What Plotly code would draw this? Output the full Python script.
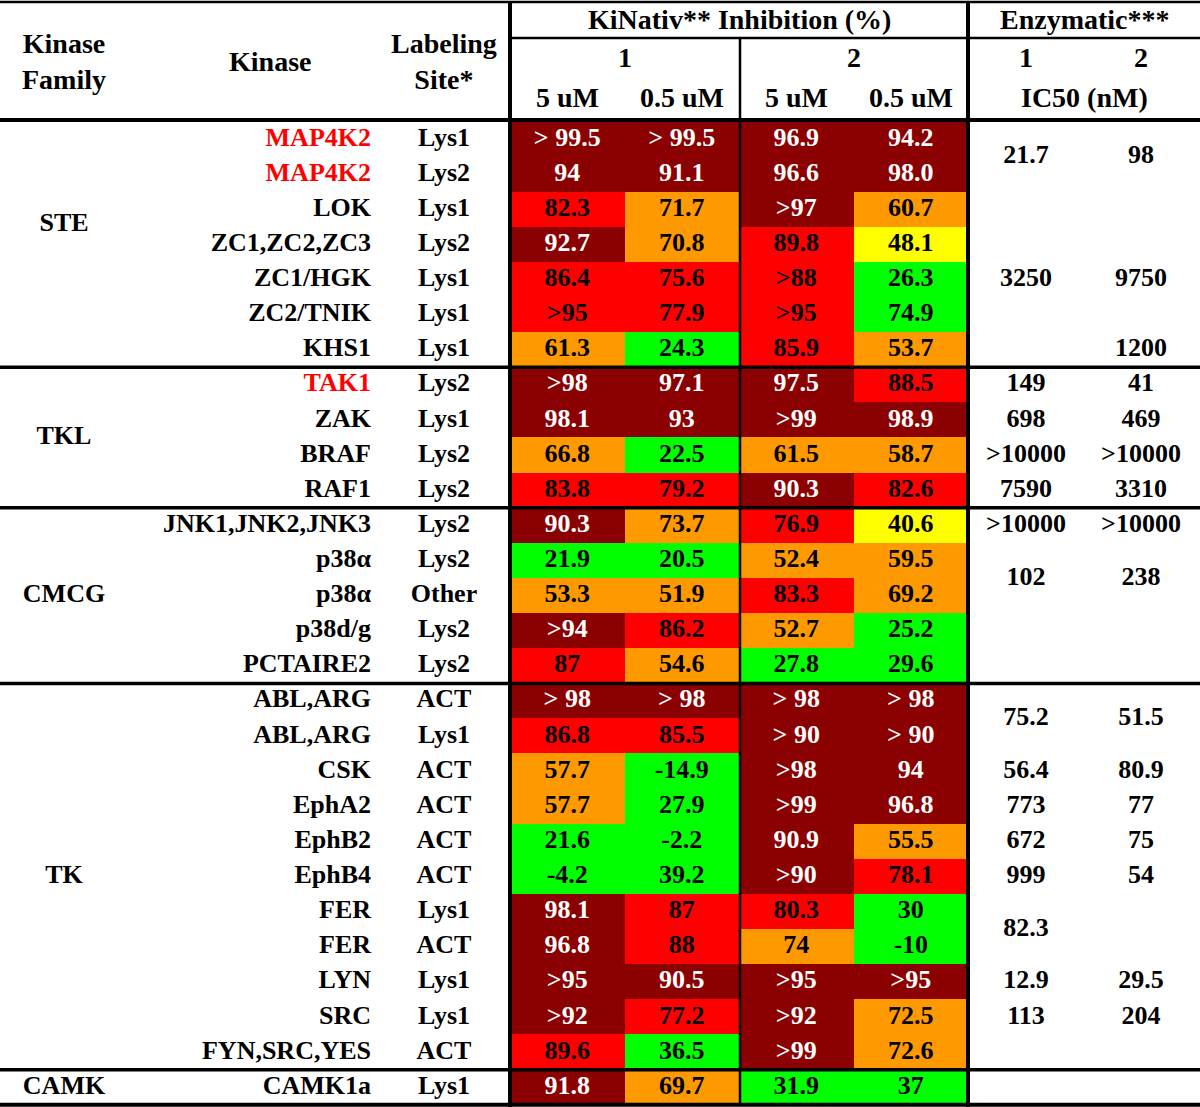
import plotly.graph_objects as go

# ---------------- data ----------------
families = ["STE", "TKL", "CMCG", "TK", "CAMK"]
family_sizes = [7, 4, 5, 11, 1]
kinases = ["MAP4K2", "MAP4K2", "LOK", "ZC1,ZC2,ZC3", "ZC1/HGK", "ZC2/TNIK", "KHS1",
           "TAK1", "ZAK", "BRAF", "RAF1",
           "JNK1,JNK2,JNK3", "p38α", "p38α", "p38d/g", "PCTAIRE2",
           "ABL,ARG", "ABL,ARG", "CSK", "EphA2", "EphB2", "EphB4", "FER", "FER",
           "LYN", "SRC", "FYN,SRC,YES",
           "CAMK1a"]
highlighted = ["MAP4K2", "TAK1"]
sites = ["Lys1", "Lys2", "Lys1", "Lys2", "Lys1", "Lys1", "Lys1",
         "Lys2", "Lys1", "Lys2", "Lys2",
         "Lys2", "Lys2", "Other", "Lys2", "Lys2",
         "ACT", "Lys1", "ACT", "ACT", "ACT", "ACT", "Lys1", "ACT", "Lys1", "Lys1", "ACT",
         "Lys1"]
c1_5uM = ["> 99.5", "94", "82.3", "92.7", "86.4", ">95", "61.3",
          ">98", "98.1", "66.8", "83.8",
          "90.3", "21.9", "53.3", ">94", "87",
          "> 98", "86.8", "57.7", "57.7", "21.6", "-4.2", "98.1", "96.8", ">95", ">92", "89.6",
          "91.8"]
c1_05uM = ["> 99.5", "91.1", "71.7", "70.8", "75.6", "77.9", "24.3",
           "97.1", "93", "22.5", "79.2",
           "73.7", "20.5", "51.9", "86.2", "54.6",
           "> 98", "85.5", "-14.9", "27.9", "-2.2", "39.2", "87", "88", "90.5", "77.2", "36.5",
           "69.7"]
c2_5uM = ["96.9", "96.6", ">97", "89.8", ">88", ">95", "85.9",
          "97.5", ">99", "61.5", "90.3",
          "76.9", "52.4", "83.3", "52.7", "27.8",
          "> 98", "> 90", ">98", ">99", "90.9", ">90", "80.3", "74", ">95", ">92", ">99",
          "31.9"]
c2_05uM = ["94.2", "98.0", "60.7", "48.1", "26.3", "74.9", "53.7",
           "88.5", "98.9", "58.7", "82.6",
           "40.6", "59.5", "69.2", "25.2", "29.6",
           "> 98", "> 90", "94", "96.8", "55.5", "78.1", "30", "-10", ">95", "72.5", "72.6",
           "37"]
# cell colour class: D dark red, R red, O orange, Y yellow, G green
cell_class = ["DDDD", "DDDD", "RODO", "DORY", "RRRG", "RRRG", "OGRO",
              "DDDR", "DDDD", "OGOO", "RRDR",
              "DORY", "GGOO", "OORO", "DROG", "ROGG",
              "DDDD", "RRDD", "OGDD", "OGDD", "GGDO", "GGDR", "DRRG", "DROG", "DDDD", "DRDO", "RGDO",
              "DOGG"]
# enzymatic IC50 (nM): (first row, last row, compound 1, compound 2)
enzymatic = [(0, 1, "21.7", "98"), (4, 4, "3250", "9750"), (6, 6, "", "1200"),
             (7, 7, "149", "41"), (8, 8, "698", "469"), (9, 9, ">10000", ">10000"),
             (10, 10, "7590", "3310"), (11, 11, ">10000", ">10000"), (12, 13, "102", "238"),
             (16, 17, "75.2", "51.5"), (18, 18, "56.4", "80.9"), (19, 19, "773", "77"),
             (20, 20, "672", "75"), (21, 21, "999", "54"), (22, 23, "82.3", ""),
             (24, 24, "12.9", "29.5"), (25, 25, "113", "204")]
conc_labels = ["5 uM", "0.5 uM", "5 uM", "0.5 uM"]
compound_labels = ["1", "2"]

# ---------------- layout geometry (pixels) ----------------
W, H = 1200, 1107
y0, rh = 121.5, 35.12
n = len(kinases)
row_y = [y0 + rh * (i + 0.5) for i in range(n)]
x_fam, x_kin_right, x_kin_head, x_site = 64, 371, 270, 444
x_left, x_mid, x_right = 510, 740, 968
cw = (x_right - x_left) / 4
x_cells = [x_left + cw * (k + 0.5) for k in range(4)]
x_enz = [1026, 1141]
FONT = "Liberation Serif"
fs = 26
fsh = 28

class_code = {"D": 0, "R": 1, "O": 2, "Y": 3, "G": 4}
class_color = ["#8B0000", "#FF0000", "#FF9900", "#FFFF00", "#00FF00"]
z = [[class_code[c] for c in row] for row in cell_class]
cs = []
for k, col in enumerate(class_color):
    cs.append([max(0, (k - 0.5) / 4), col])
    cs.append([min(1, (k + 0.5) / 4), col])

fig = go.Figure()
fig.add_trace(go.Heatmap(z=z, x=x_cells, y=row_y, colorscale=cs, zmin=0, zmax=4,
                         showscale=False, hoverinfo="skip"))

value_cols = [c1_5uM, c1_05uM, c2_5uM, c2_05uM]
for k, col in enumerate(value_cols):
    colors = ["white" if cell_class[i][k] == "D" else "black" for i in range(n)]
    fig.add_trace(go.Scatter(x=[x_cells[k]] * n, y=row_y, text=col, mode="text",
                             textposition="middle center",
                             textfont=dict(family=FONT, size=fs, color=colors, weight="bold"),
                             hoverinfo="skip", showlegend=False))

kin_colors = ["#FF0000" if k in highlighted else "black" for k in kinases]
fig.add_trace(go.Scatter(x=[x_kin_right] * n, y=row_y, text=kinases, mode="text",
                         textposition="middle left",
                         textfont=dict(family=FONT, size=fs, color=kin_colors, weight="bold"),
                         hoverinfo="skip", showlegend=False))
fig.add_trace(go.Scatter(x=[x_site] * n, y=row_y, text=sites, mode="text",
                         textposition="middle center",
                         textfont=dict(family=FONT, size=fs, color="black", weight="bold"),
                         hoverinfo="skip", showlegend=False))

# family labels
fam_y, starts = [], []
s = 0
for sz in family_sizes:
    starts.append(s)
    fam_y.append(y0 + rh * (s + sz / 2))
    s += sz
fam_y[0] -= 20  # STE label sits a little above its group's centre
fig.add_trace(go.Scatter(x=[x_fam] * len(families), y=fam_y, text=families, mode="text",
                         textposition="middle center",
                         textfont=dict(family=FONT, size=fs, color="black", weight="bold"),
                         hoverinfo="skip", showlegend=False))

# enzymatic values
for j in range(2):
    xs, ys, ts = [], [], []
    for (a, b, v1, v2) in enzymatic:
        v = (v1, v2)[j]
        if v:
            xs.append(x_enz[j])
            ys.append(y0 + rh * ((a + b) / 2 + 0.5))
            ts.append(v)
    fig.add_trace(go.Scatter(x=xs, y=ys, text=ts, mode="text", textposition="middle center",
                             textfont=dict(family=FONT, size=fs, color="black", weight="bold"),
                             hoverinfo="skip", showlegend=False))

# headers
hdr = dict(family=FONT, size=fsh, color="black", weight="bold")
def ann(x, y, t, xanchor="center"):
    fig.add_annotation(x=x, y=y, text=t, showarrow=False, xanchor=xanchor, yanchor="middle",
                       font=hdr, xref="x", yref="y")

ann(x_fam, 61, "Kinase<br>Family")
ann(x_kin_head, 61, "Kinase")
ann(x_site, 61, "Labeling<br>Site*")
ann((x_left + x_right) / 2, 19, "KiNativ** Inhibition (%)")
ann((x_right + W) / 2 + 0.5, 19, "Enzymatic***")
ann((x_left + x_mid) / 2, 57, compound_labels[0])
ann((x_mid + x_right) / 2, 57, compound_labels[1])
ann(x_enz[0], 57, compound_labels[0])
ann(x_enz[1], 57, compound_labels[1])
for k in range(4):
    ann(x_cells[k], 97, conc_labels[k])
ann((x_right + W) / 2 + 0.5, 97, "IC50 (nM)")

# rules
def hline(y, xa, xb, w):
    fig.add_shape(type="line", x0=xa, x1=xb, y0=y, y1=y, line=dict(color="black", width=w),
                  xref="x", yref="y")
def vline(x, ya, yb, w):
    fig.add_shape(type="line", x0=x, x1=x, y0=ya, y1=yb, line=dict(color="black", width=w),
                  xref="x", yref="y")

hline(2, 0, W, 2.5)
hline(38, x_left, W, 2.5)
hline(y0 - 1.5, 0, W, 4)
for s in starts[1:]:
    hline(y0 + rh * s, 0, W, 3.5)
hline(y0 + rh * n, 0, W, 4)
vline(x_left, 1, H, 4)
vline(x_right, 1, H, 4)
vline(x_mid, 38, y0 + rh * n, 2.5)

fig.update_layout(width=W, height=H, margin=dict(l=0, r=0, t=0, b=0),
                  paper_bgcolor="white", plot_bgcolor="white", showlegend=False)
fig.update_xaxes(range=[0, W], visible=False, fixedrange=True)
fig.update_yaxes(range=[H, 0], visible=False, fixedrange=True)
fig.write_html("out.html", config={"displayModeBar": False, "staticPlot": True},
               post_script="document.body.style.margin='0';document.body.style.overflow='hidden';")
